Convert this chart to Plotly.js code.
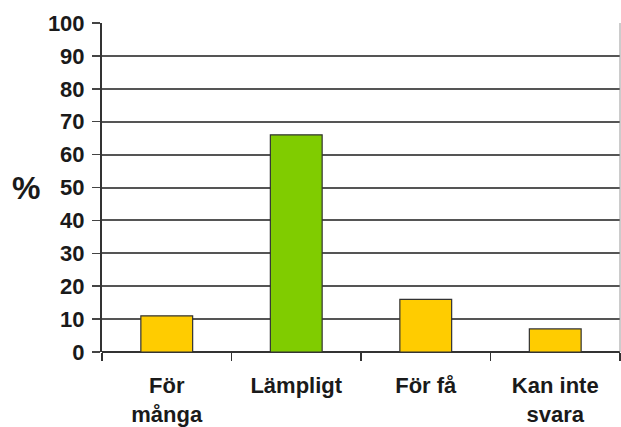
<!DOCTYPE html>
<html>
<head>
<meta charset="utf-8">
<script src="https://cdn.plot.ly/plotly-3.0.1.min.js"></script>
<style>html,body{margin:0;padding:0;background:#fff;}#chart{width:621px;height:427px;}</style>
</head>
<body>
<div id="chart"></div>
<script>
const categories = ["För<br>många", "Lämpligt", "För få", "Kan inte<br>svara"];
const values = [11, 66, 16, 7];
const barColors = ["#FFCC00", "#80CC00", "#FFCC00", "#FFCC00"];
const yTicks = [0, 10, 20, 30, 40, 50, 60, 70, 80, 90, 100];

const font = {family: "Liberation Sans, Arial, sans-serif", size: 22, color: "#222"};

Plotly.newPlot("chart", [{
  type: "bar",
  x: categories,
  y: values,
  width: 0.4,
  marker: {color: barColors, line: {color: "#333", width: 1.2}},
  hoverinfo: "none"
}], {
  width: 621, height: 427,
  margin: {l: 102, r: 1, t: 23, b: 75, pad: 0},
  paper_bgcolor: "#fff", plot_bgcolor: "#fff",
  showlegend: false,
  font: font,
  xaxis: {
    type: "category",
    range: [-0.5, 3.5],
    tickson: "boundaries",
    ticks: "outside", ticklen: 8, tickwidth: 1.5, tickcolor: "#333",
    showgrid: false, showline: false, zeroline: false,
    tickfont: {family: "Liberation Sans, Arial, sans-serif", size: 22, color: "#1a1a1a", weight: "bold"},
    ticklabelstandoff: 18
  },
  yaxis: {
    range: [0, 100],
    tickvals: yTicks,
    ticks: "outside", ticklen: 8, tickwidth: 1.5, tickcolor: "#444",
    showgrid: true, gridcolor: "#555", gridwidth: 2,
    showline: true, linecolor: "#333", linewidth: 2,
    zeroline: true, zerolinecolor: "#333", zerolinewidth: 2,
    tickfont: {family: "Liberation Sans, Arial, sans-serif", size: 22, color: "#1a1a1a", weight: "bold"},
    ticklabelstandoff: 3
  },
  shapes: [{type: "line", xref: "paper", yref: "paper", x0: 1, x1: 1, y0: 0, y1: 1,
            line: {color: "#999", width: 1}}],
  annotations: [{
    text: "%", xref: "paper", yref: "paper", x: -0.147, y: 0.5,
    showarrow: false, xanchor: "center", yanchor: "middle",
    font: {family: "Liberation Sans, Arial, sans-serif", size: 32, color: "#1a1a1a", weight: "bold"}
  }]
}, {staticPlot: true});
</script>
</body>
</html>
